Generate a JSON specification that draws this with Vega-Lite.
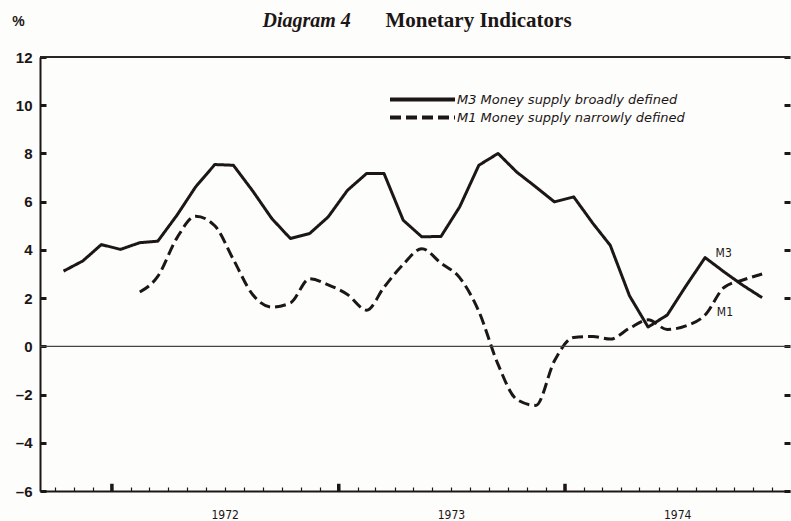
{
  "$schema": "https://vega.github.io/schema/vega-lite/v6.json",
  "width": 750,
  "height": 434,
  "autosize": {"type": "none"},
  "padding": {"left": 40, "top": 57, "right": 1, "bottom": 30},
  "background": "#fdfdfb",
  "config": {"view": {"stroke": null}, "font": "Liberation Sans"},
  "datasets": {
    "series": [
      {"date": "1971-10-15", "series": "M3", "value": 3.12},
      {"date": "1971-11-15", "series": "M3", "value": 3.54},
      {"date": "1971-12-15", "series": "M3", "value": 4.22},
      {"date": "1972-01-15", "series": "M3", "value": 4.02},
      {"date": "1972-02-15", "series": "M3", "value": 4.30},
      {"date": "1972-03-15", "series": "M3", "value": 4.36},
      {"date": "1972-04-15", "series": "M3", "value": 5.44},
      {"date": "1972-05-15", "series": "M3", "value": 6.61},
      {"date": "1972-06-15", "series": "M3", "value": 7.54},
      {"date": "1972-07-15", "series": "M3", "value": 7.51},
      {"date": "1972-08-15", "series": "M3", "value": 6.45},
      {"date": "1972-09-15", "series": "M3", "value": 5.3},
      {"date": "1972-10-15", "series": "M3", "value": 4.47},
      {"date": "1972-11-15", "series": "M3", "value": 4.68},
      {"date": "1972-12-15", "series": "M3", "value": 5.37},
      {"date": "1973-01-15", "series": "M3", "value": 6.47},
      {"date": "1973-02-15", "series": "M3", "value": 7.17},
      {"date": "1973-03-15", "series": "M3", "value": 7.17},
      {"date": "1973-04-15", "series": "M3", "value": 5.23},
      {"date": "1973-05-15", "series": "M3", "value": 4.54},
      {"date": "1973-06-15", "series": "M3", "value": 4.56},
      {"date": "1973-07-15", "series": "M3", "value": 5.78},
      {"date": "1973-08-15", "series": "M3", "value": 7.51},
      {"date": "1973-09-15", "series": "M3", "value": 8.0},
      {"date": "1973-10-15", "series": "M3", "value": 7.23},
      {"date": "1973-11-15", "series": "M3", "value": 6.61},
      {"date": "1973-12-15", "series": "M3", "value": 5.99},
      {"date": "1974-01-15", "series": "M3", "value": 6.2},
      {"date": "1974-02-15", "series": "M3", "value": 5.1},
      {"date": "1974-03-15", "series": "M3", "value": 4.19},
      {"date": "1974-04-15", "series": "M3", "value": 2.1},
      {"date": "1974-05-15", "series": "M3", "value": 0.8},
      {"date": "1974-06-15", "series": "M3", "value": 1.3},
      {"date": "1974-07-15", "series": "M3", "value": 2.5},
      {"date": "1974-08-15", "series": "M3", "value": 3.68},
      {"date": "1974-09-15", "series": "M3", "value": 3.08},
      {"date": "1974-10-15", "series": "M3", "value": 2.53},
      {"date": "1974-11-15", "series": "M3", "value": 2.02},
      {"date": "1972-02-15", "series": "M1", "value": 2.25},
      {"date": "1972-03-15", "series": "M1", "value": 2.9},
      {"date": "1972-04-15", "series": "M1", "value": 4.5},
      {"date": "1972-05-15", "series": "M1", "value": 5.4},
      {"date": "1972-06-15", "series": "M1", "value": 5.0},
      {"date": "1972-07-15", "series": "M1", "value": 3.6},
      {"date": "1972-08-15", "series": "M1", "value": 2.15},
      {"date": "1972-09-15", "series": "M1", "value": 1.63},
      {"date": "1972-10-15", "series": "M1", "value": 1.8},
      {"date": "1972-11-15", "series": "M1", "value": 2.8},
      {"date": "1972-12-15", "series": "M1", "value": 2.55},
      {"date": "1973-01-15", "series": "M1", "value": 2.15},
      {"date": "1973-02-15", "series": "M1", "value": 1.5},
      {"date": "1973-03-15", "series": "M1", "value": 2.45},
      {"date": "1973-04-15", "series": "M1", "value": 3.4},
      {"date": "1973-05-15", "series": "M1", "value": 4.05},
      {"date": "1973-06-15", "series": "M1", "value": 3.45},
      {"date": "1973-07-15", "series": "M1", "value": 2.85},
      {"date": "1973-08-15", "series": "M1", "value": 1.45},
      {"date": "1973-09-15", "series": "M1", "value": -0.75},
      {"date": "1973-10-15", "series": "M1", "value": -2.2},
      {"date": "1973-11-15", "series": "M1", "value": -2.45},
      {"date": "1973-12-15", "series": "M1", "value": -0.6},
      {"date": "1974-01-15", "series": "M1", "value": 0.37},
      {"date": "1974-02-15", "series": "M1", "value": 0.41},
      {"date": "1974-03-15", "series": "M1", "value": 0.3},
      {"date": "1974-04-15", "series": "M1", "value": 0.75},
      {"date": "1974-05-15", "series": "M1", "value": 1.1},
      {"date": "1974-06-15", "series": "M1", "value": 0.7},
      {"date": "1974-07-15", "series": "M1", "value": 0.85},
      {"date": "1974-08-15", "series": "M1", "value": 1.3},
      {"date": "1974-09-15", "series": "M1", "value": 2.45},
      {"date": "1974-10-15", "series": "M1", "value": 2.75},
      {"date": "1974-11-15", "series": "M1", "value": 3.0}
    ],
    "labels": [
      {"date": "1974-09-01", "value": 3.86, "label": "M3"},
      {"date": "1974-09-03", "value": 1.41, "label": "M1"}
    ],
    "years": [
      {"date": "1972-01-01"},
      {"date": "1973-01-01"},
      {"date": "1974-01-01"}
    ]
  },
  "resolve": {"axis": {"y": "independent"}},
  "layer": [
    {
      "data": {"name": "series"},
      "transform": [{"filter": "datum.series === 'M3'"}],
      "mark": {"type": "line", "strokeWidth": 3, "color": "#1c1616", "strokeJoin": "round"},
      "encoding": {
        "x": {
          "field": "date",
          "type": "temporal",
          "scale": {"domain": [{"year": 1971, "month": 9, "date": 7}, {"year": 1974, "month": 12, "date": 30}]},
          "axis": {
            "orient": "bottom",
            "title": "Diagram 4",
            "titleFont": "Liberation Serif",
            "titleFontStyle": "italic",
            "titleFontWeight": "bold",
            "titleFontSize": 20,
            "titleColor": "#1c1616",
            "titleAnchor": "start",
            "titleAlign": "left",
            "titleBaseline": "middle",
            "titleX": 222,
            "titleY": -471,
            "tickCount": {"interval": "month", "step": 1},
            "grid": false,
            "domain": true,
            "domainColor": "#1c1616",
            "domainWidth": 2,
            "ticks": true,
            "tickColor": "#1c1616",
            "tickSize": -4,
            "tickWidth": 1.2,
            "labels": true,
            "labelExpr": "month(datum.value) == 6 ? timeFormat(datum.value, '%Y') : ''",
            "labelOverlap": false,
            "labelBound": false,
            "labelFlush": false,
            "labelPadding": 22,
            "labelFont": "DejaVu Sans Condensed",
            "labelFontSize": 12,
            "labelColor": "#1c1616",
            "labelBaseline": "top"
          }
        },
        "y": {
          "field": "value",
          "type": "quantitative",
          "scale": {"domain": [-6, 12], "nice": false, "zero": false},
          "axis": {
            "title": "%",
            "titleAngle": 0,
            "titleX": -22,
            "titleY": -36,
            "titleAlign": "center",
            "titleBaseline": "middle",
            "titleFontSize": 14,
            "titleFontWeight": "bold",
            "titleColor": "#1c1616",
            "values": [-6, -4, -2, 0, 2, 4, 6, 8, 10, 12],
            "grid": false,
            "domainColor": "#1c1616",
            "domainWidth": 2,
            "tickColor": "#1c1616",
            "tickSize": -6,
            "tickWidth": 3,
            "labelPadding": 14,
            "labelFontSize": 15,
            "labelFontWeight": "bold",
            "labelColor": "#1c1616",
            "labelExpr": "datum.value < 0 ? '\u2013' + abs(datum.value) : datum.label"
          }
        },
        "strokeDash": {
          "field": "series",
          "type": "nominal",
          "scale": {"domain": ["M3", "M1"], "range": [[1, 0], [11, 5]]},
          "legend": {
            "orient": "none",
            "legendX": 374,
            "legendY": 34,
            "title": null,
            "symbolType": "M-5,0H5",
            "symbolSize": 169,
            "symbolStrokeWidth": 4,
            "symbolStrokeColor": "#1c1616",
            "labelExpr": "datum.label == 'M3' ? 'M3  Money supply broadly defined' : 'M1  Money supply narrowly defined'",
            "labelFont": "DejaVu Sans",
            "labelFontStyle": "italic",
            "labelFontSize": 13,
            "labelColor": "#1c1616",
            "labelLimit": 400,
            "labelOffset": 26,
            "rowPadding": 1
          }
        }
      }
    },
    {
      "data": {"name": "series"},
      "transform": [{"filter": "datum.series === 'M1'"}],
      "mark": {"type": "line", "strokeWidth": 3, "color": "#1c1616", "interpolate": "monotone"},
      "encoding": {
        "x": {"field": "date", "type": "temporal"},
        "y": {"field": "value", "type": "quantitative", "axis": null},
        "strokeDash": {"field": "series", "type": "nominal"}
      }
    },
    {
      "data": {"values": [{"v": 0}]},
      "mark": {"type": "rule", "color": "#444444", "strokeWidth": 1.3},
      "encoding": {"y": {"datum": 0, "type": "quantitative", "axis": null}}
    },
    {
      "data": {"name": "years"},
      "mark": {"type": "rule", "color": "#1c1616", "strokeWidth": 3.5},
      "encoding": {
        "x": {"field": "date", "type": "temporal"},
        "y": {"datum": -6, "type": "quantitative", "axis": null},
        "y2": {"datum": -5.7}
      }
    },
    {
      "data": {"values": [{"v": 12}]},
      "mark": {"type": "rule", "color": "#2a2424", "strokeWidth": 2},
      "encoding": {
        "y": {
          "datum": 12,
          "type": "quantitative",
          "axis": {
            "orient": "right",
            "title": "Monetary Indicators",
            "titleFont": "Liberation Serif",
            "titleFontWeight": "bold",
            "titleFontSize": 21,
            "titleColor": "#1c1616",
            "titleAngle": 0,
            "titleAlign": "left",
            "titleBaseline": "middle",
            "titleX": -405,
            "titleY": -37,
            "values": [-6, -4, -2, 0, 2, 4, 6, 8, 10, 12],
            "labels": false,
            "domain": false,
            "grid": false,
            "tickColor": "#1c1616",
            "tickSize": -6,
            "tickWidth": 3
          }
        }
      }
    },
    {
      "data": {"name": "labels"},
      "mark": {"type": "text", "align": "left", "baseline": "middle", "font": "DejaVu Sans Condensed", "fontSize": 12, "color": "#1c1616"},
      "encoding": {
        "x": {"field": "date", "type": "temporal"},
        "y": {"field": "value", "type": "quantitative", "axis": null},
        "text": {"field": "label"}
      }
    }
  ]
}
